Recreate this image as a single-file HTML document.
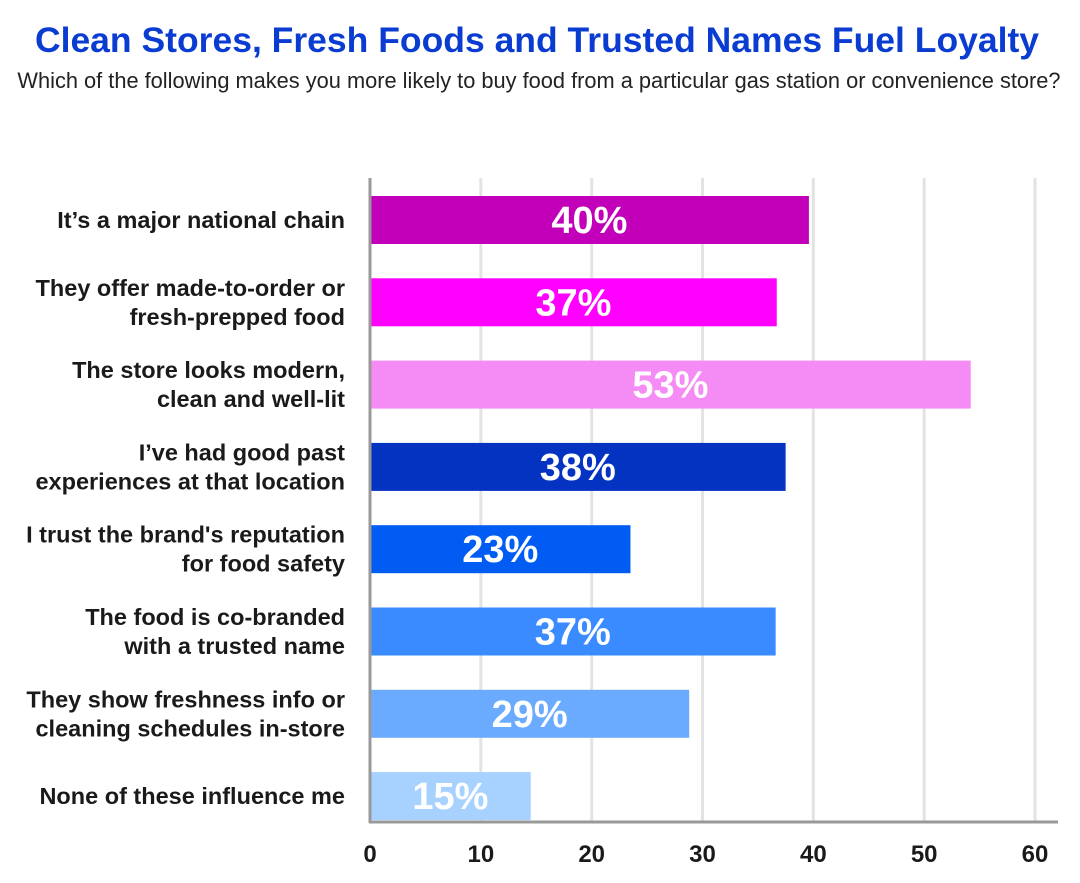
<!DOCTYPE html>
<html><head><meta charset="utf-8"><style>
body{margin:0;width:1080px;height:878px;background:#fff;font-family:"Liberation Sans",sans-serif;overflow:hidden}
</style></head><body>
<svg width="1080" height="878" id="c">
<text x="537" y="52" text-anchor="middle" font-size="35.5" font-weight="bold" fill="#0a3cd2">Clean Stores, Fresh Foods and Trusted Names Fuel Loyalty</text>
<text x="539" y="88" text-anchor="middle" font-size="21.8" fill="#222">Which of the following makes you more likely to buy food from a particular gas station or convenience store?</text>
</svg>
<script>
const categories=[["It’s a major national chain"],["They offer made-to-order or","fresh-prepped food"],["The store looks modern,","clean and well-lit"],["I’ve had good past","experiences at that location"],["I trust the brand's reputation","for food safety"],["The food is co-branded","with a trusted name"],["They show freshness info or","cleaning schedules in-store"],["None of these influence me"]];
const values=[39.6,36.7,54.2,37.5,23.5,36.6,28.8,14.5];
const valueLabels=["40%","37%","53%","38%","23%","37%","29%","15%"];
const colors=["#c200b9","#ff00ff","#f58cf5","#0433c2","#005cf2","#3a8bff","#6aabff","#a7d2ff"];
const ticks=[0,10,20,30,40,50,60];
(function(){
const svg=document.getElementById('c');const NS="http://www.w3.org/2000/svg";
const x0=370,x1=1035,xmax=60,gTop=178,axisY=822,step=82.3,firstC=220,bh=48;
const xs=v=>x0+(x1-x0)*v/xmax;
const yc=i=>firstC+i*step;
function mk(t,a,txt){const e=document.createElementNS(NS,t);for(const k in a)e.setAttribute(k,a[k]);if(txt!=null)e.textContent=txt;svg.appendChild(e);return e;}
ticks.forEach(t=>{
 if(t>0){const g=mk('line',{x1:xs(t),x2:xs(t),y1:gTop,y2:axisY,stroke:'#e3e3e3','stroke-width':3});
 
 }
 const l=mk('text',{x:xs(t),y:862,'text-anchor':'middle','font-size':24,'font-weight':'bold',fill:'#1a1a1a'},String(t));
 
 
});
values.forEach((v,i)=>{
 const r=mk('rect',{x:x0,y:yc(i)-bh/2,width:xs(v)-x0,height:bh,fill:colors[i]});
 
 
 const t=mk('text',{x:(x0+xs(v))/2,y:yc(i)+13,'text-anchor':'middle','font-size':38,'font-weight':'bold',fill:'#fff'},valueLabels[i]);
 
 
 const lines=categories[i];
 lines.forEach((s,j)=>{
  const y=yc(i)+8+(j-(lines.length-1)/2)*29;
  const c=mk('text',{x:345,y:y,'text-anchor':'end','font-size':23.5,'font-weight':'bold',fill:'#1a1a1a'},s);
  
  
 });
});
const ya=mk('line',{x1:x0,x2:x0,y1:gTop,y2:axisY+1,stroke:'#999','stroke-width':3});


const xa=mk('line',{x1:x0-1,x2:1058,y1:axisY,y2:axisY,stroke:'#999','stroke-width':3});


})();
</script>
</body></html>
